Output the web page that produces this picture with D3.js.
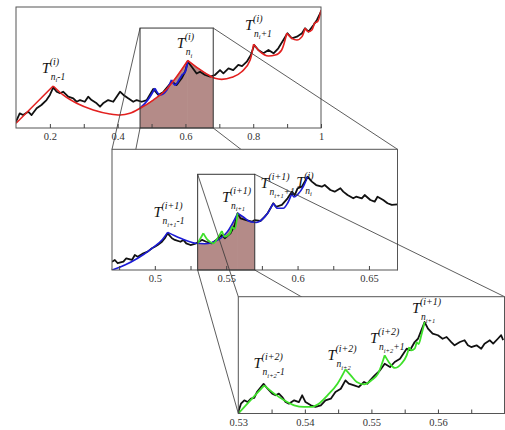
<!DOCTYPE html>
<html>
<head>
<meta charset="utf-8">
<script src="https://cdn.jsdelivr.net/npm/d3@7"></script>
<style>
body { margin: 0; background: #fff; }
svg { display: block; }
text { font-family: "Liberation Serif", "Times New Roman", serif; }
.lbl { font-style: italic; fill: #111; }
.tick text { fill: #333; font-size: 10.5px; }
</style>
</head>
<body>
<svg id="chart" width="505" height="430"></svg>
<script>
// ---- panel 1 (x 0.1 .. 1) ----
var black1 = [[0.1,0.052],[0.111,0.121],[0.121,0.107],[0.136,0.135],[0.146,0.107],[0.161,0.163],[0.175,0.190],[0.190,0.231],
  [0.200,0.273],[0.210,0.336],[0.220,0.300],[0.230,0.287],[0.239,0.300],[0.254,0.259],[0.269,0.245],[0.279,0.217],
  [0.289,0.231],[0.303,0.217],[0.313,0.259],[0.323,0.231],[0.338,0.204],[0.348,0.176],[0.357,0.204],[0.372,0.231],
  [0.387,0.217],[0.407,0.300],[0.417,0.273],[0.431,0.245],[0.446,0.217],[0.456,0.231],[0.471,0.217],[0.486,0.231],
  [0.505,0.322],[0.520,0.273],[0.535,0.298],[0.560,0.383],[0.574,0.355],[0.589,0.411],[0.599,0.465],[0.607,0.548],
  [0.619,0.504],[0.633,0.450],[0.643,0.465],[0.658,0.438],[0.673,0.424],[0.687,0.438],[0.702,0.479],[0.712,0.452],
  [0.727,0.493],[0.741,0.479],[0.756,0.521],[0.767,0.512],[0.781,0.548],[0.793,0.603],[0.803,0.686],[0.815,0.645],
  [0.830,0.617],[0.845,0.645],[0.860,0.617],[0.874,0.659],[0.889,0.727],[0.901,0.783],[0.914,0.741],[0.929,0.755],
  [0.944,0.783],[0.953,0.824],[0.963,0.796],[0.978,0.851],[0.988,0.893],[1.0,0.961]];
var red1 = [
  [[0.1,0.039],[0.2097,0.347]],
  [[0.2097,0.347],[0.239,0.273],[0.279,0.204],[0.328,0.149],[0.377,0.116],[0.407,0.107],[0.436,0.121],[0.466,0.163],
   [0.505,0.231],[0.545,0.322],[0.569,0.405],[0.607,0.558]],
  [[0.607,0.558],[0.638,0.493],[0.668,0.438],[0.687,0.411],[0.707,0.402],[0.737,0.419],[0.766,0.465],[0.791,0.562],[0.801,0.692]],
  [[0.801,0.692],[0.820,0.631],[0.845,0.595],[0.865,0.603],[0.884,0.645],[0.899,0.783]],
  [[0.899,0.783],[0.914,0.741],[0.929,0.727],[0.944,0.755],[0.953,0.824]],
  [[0.953,0.824],[0.963,0.796],[0.973,0.81],[0.981,0.87]],
  [[0.981,0.87],[0.99,0.88],[1.0,0.975]]
];
var blue1 = [
  [[0.466,0.163],[0.490,0.235],[0.510,0.328]],
  [[0.510,0.328],[0.525,0.273],[0.545,0.314],[0.559,0.397]],
  [[0.559,0.397],[0.569,0.355],[0.584,0.411],[0.592,0.446]],
  [[0.592,0.446],[0.599,0.463],[0.607,0.554]]
];
var ticks1 = [0.2, 0.4, 0.6, 0.8, 1];
var tickLabels1 = ['0.2', '0.4', '0.6', '0.8', '1'];
var minor1 = [0.3, 0.5, 0.7, 0.9];
var zoom1 = [0.466, 0.682];
var zoomTop1 = 0.826;
var labels1 = [
  {x: 0.176, y: 0.455, sup: '(i)', sub: 'i', tail: '-1'},
  {x: 0.574, y: 0.659, sup: '(i)', sub: 'i', tail: ''},
  {x: 0.776, y: 0.810, sup: '(i)', sub: 'i', tail: '+1'}
];

// ---- panel 2 (x 0.47 .. 0.67) ----
var black2 = [[0.47,0.069],[0.472,0.083],[0.474,0.056],[0.478,0.069],[0.480,0.097],[0.484,0.083],[0.486,0.124],[0.488,0.110],
  [0.492,0.138],[0.495,0.152],[0.498,0.180],[0.500,0.193],[0.502,0.207],[0.505,0.234],[0.507,0.263],[0.509,0.304],
  [0.512,0.263],[0.514,0.249],[0.518,0.234],[0.520,0.249],[0.522,0.221],[0.525,0.207],[0.529,0.221],[0.533,0.249],
  [0.536,0.234],[0.540,0.221],[0.543,0.249],[0.547,0.290],[0.549,0.263],[0.553,0.304],[0.556,0.373],[0.558,0.470],
  [0.560,0.428],[0.564,0.414],[0.568,0.400],[0.570,0.414],[0.574,0.406],[0.577,0.442],[0.579,0.470],[0.583,0.553],
  [0.585,0.524],[0.589,0.539],[0.591,0.566],[0.593,0.594],[0.596,0.649],[0.598,0.621],[0.600,0.677],[0.603,0.690],
  [0.605,0.732],[0.607,0.773],[0.610,0.732],[0.613,0.704],[0.617,0.690],[0.619,0.704],[0.623,0.663],[0.626,0.649],
  [0.630,0.677],[0.632,0.649],[0.635,0.621],[0.639,0.594],[0.641,0.607],[0.645,0.594],[0.647,0.621],[0.651,0.580],
  [0.654,0.566],[0.656,0.607],[0.660,0.580],[0.663,0.553],[0.666,0.539],[0.67,0.544]];
var blue2 = [
  [[0.47,0.0],[0.479,0.041],[0.488,0.097],[0.498,0.180],[0.505,0.249],[0.509,0.312]],
  [[0.509,0.312],[0.514,0.284],[0.521,0.249],[0.529,0.221],[0.535,0.218],[0.540,0.228],[0.546,0.262],[0.551,0.320],[0.558,0.470]],
  [[0.558,0.470],[0.562,0.439],[0.567,0.400],[0.571,0.394],[0.576,0.428],[0.579,0.470],[0.583,0.553]],
  [[0.583,0.553],[0.586,0.511],[0.590,0.511],[0.593,0.553],[0.596,0.635]],
  [[0.596,0.635],[0.5975,0.605],[0.600,0.625],[0.604,0.690],[0.607,0.773]]
];
var green2 = [
  [[0.530,0.221],[0.534,0.304]],
  [[0.534,0.304],[0.537,0.249],[0.541,0.221],[0.544,0.263],[0.547,0.323]],
  [[0.547,0.323],[0.549,0.276],[0.553,0.312],[0.554,0.359]],
  [[0.554,0.359],[0.556,0.340],[0.558,0.470]]
];
var ticks2 = [0.5, 0.55, 0.6, 0.65];
var tickLabels2 = ['0.5', '0.55', '0.6', '0.65'];
var minor2 = [0.475, 0.525, 0.575, 0.625];
var zoom2 = [0.53, 0.57];
var zoomTop2 = 0.793;
var labels2 = [
  {x: 0.499, y: 0.439, sup: '(i+1)', sub: 'i+1', tail: '-1'},
  {x: 0.547, y: 0.566, sup: '(i+1)', sub: 'i+1', tail: ''},
  {x: 0.574, y: 0.677, sup: '(i+1)', sub: 'i+1', tail: '+1'},
  {x: 0.599, y: 0.690, sup: '(i)', sub: 'i', tail: ''}
];

// ---- panel 3 (x 0.53 .. 0.57) ----
var black3 = [[0.530,0.013],[0.5304,0.084],[0.5309,0.113],[0.5314,0.098],[0.5319,0.127],[0.5324,0.133],[0.5328,0.184],
  [0.5334,0.227],[0.5338,0.253],[0.5344,0.212],[0.5351,0.170],[0.5356,0.156],[0.5361,0.170],[0.5366,0.141],[0.5371,0.098],
  [0.5376,0.084],[0.5384,0.113],[0.5391,0.098],[0.5396,0.156],[0.5401,0.098],[0.5409,0.070],[0.5416,0.056],[0.5424,0.070],
  [0.5431,0.113],[0.5439,0.127],[0.5446,0.184],[0.5454,0.212],[0.5461,0.284],[0.5466,0.255],[0.5474,0.241],[0.5481,0.227],
  [0.5489,0.270],[0.5494,0.255],[0.5498,0.284],[0.5505,0.327],[0.5513,0.370],[0.5520,0.426],[0.5528,0.398],[0.5535,0.441],
  [0.5543,0.469],[0.5548,0.512],[0.5553,0.555],[0.5558,0.541],[0.5565,0.612],[0.5570,0.640],[0.5575,0.712],[0.5580,0.783],
  [0.5585,0.726],[0.5592,0.683],[0.5600,0.670],[0.5607,0.640],[0.5613,0.655],[0.5620,0.612],[0.5625,0.584],[0.5633,0.612],
  [0.5640,0.627],[0.5645,0.584],[0.5650,0.569],[0.5658,0.584],[0.5665,0.555],[0.5670,0.598],[0.5678,0.627],[0.5683,0.598],
  [0.5690,0.640],[0.5695,0.670],[0.5698,0.629]];
var green3 = [
  [[0.530,0.0],[0.5339,0.241]],
  [[0.5339,0.241],[0.5354,0.170],[0.5369,0.113],[0.5384,0.070],[0.5399,0.056],[0.5409,0.056],[0.5421,0.084],[0.5434,0.156],
   [0.5449,0.255],[0.5461,0.378]],
  [[0.5461,0.378],[0.5469,0.327],[0.5478,0.270],[0.5489,0.250],[0.5500,0.284],[0.5510,0.341],[0.5520,0.498]],
  [[0.5520,0.498],[0.5528,0.426],[0.5535,0.390],[0.5545,0.426],[0.5553,0.498],[0.5557,0.569]],
  [[0.5557,0.569],[0.5560,0.541],[0.5565,0.555],[0.5568,0.612]],
  [[0.5568,0.612],[0.5571,0.595],[0.5575,0.670],[0.5580,0.783]]
];
var ticks3 = [0.53, 0.54, 0.55, 0.56];
var tickLabels3 = ['0.53', '0.54', '0.55', '0.56'];
var minor3 = [0.535, 0.545, 0.555, 0.565];
var labels3 = [
  {x: 0.5323, y: 0.387, sup: '(i+2)', sub: 'i+2', tail: '-1'},
  {x: 0.5434, y: 0.458, sup: '(i+2)', sub: 'i+2', tail: ''},
  {x: 0.5498, y: 0.601, sup: '(i+2)', sub: 'i+2', tail: '+1'},
  {x: 0.5561, y: 0.858, sup: '(i+1)', sub: 'i+1', tail: ''}
];

var RED = '#e3201f', BLUE = '#1c1cd6', GREEN = '#3ee02a', FILL = '#b48b88';

var svg = d3.select('#chart');

var line = function (x, y) {
  return d3.line().x(function (d) { return x(d[0]); }).y(function (d) { return y(d[1]); });
};

function drawLabel(g, px, py, d) {
  g.append('text').attr('class', 'lbl').attr('x', px).attr('y', py).style('font-size', '15px').text('T');
  g.append('text').attr('class', 'lbl').attr('x', px + 8).attr('y', py - 8).style('font-size', '10px').text(d.sup);
  var s = g.append('text').attr('class', 'lbl').attr('x', px + 9).attr('y', py + 7).style('font-size', '9.5px');
  s.append('tspan').text('n');
  s.append('tspan').attr('dy', 2.5).style('font-size', '6.5px').text(d.sub);
  if (d.tail) s.append('tspan').attr('dy', -2.5).text(d.tail);
}

function drawPanel(p) {
  var g = svg.append('g');
  var x = d3.scaleLinear().domain(p.domain).range([p.left, p.right]);
  var y = d3.scaleLinear().domain([0, 1]).range([p.bottom, p.top]);
  var id = 'clip' + p.name;

  g.append('rect').attr('x', p.left).attr('y', p.top)
    .attr('width', p.right - p.left).attr('height', p.bottom - p.top).attr('fill', '#fff');

  var defs = g.append('defs');
  defs.append('clipPath').attr('id', id).append('rect')
    .attr('x', p.left).attr('y', p.top).attr('width', p.right - p.left).attr('height', p.bottom - p.top);

  var inner = g.append('g').attr('clip-path', 'url(#' + id + ')');

  // shaded area under the approximating curve inside the zoom window
  if (p.zoom) {
    defs.append('clipPath').attr('id', id + 'z').append('rect')
      .attr('x', x(p.zoom[0])).attr('y', p.top)
      .attr('width', x(p.zoom[1]) - x(p.zoom[0])).attr('height', p.bottom - p.top);
    var area = d3.area().x(function (d) { return x(d[0]); }).y0(y(0)).y1(function (d) { return y(d[1]); })
      .curve(d3.curveMonotoneX);
    inner.append('g').attr('clip-path', 'url(#' + id + 'z)')
      .selectAll('path').data(p.fillSegs).enter().append('path')
      .attr('d', area).attr('fill', FILL).attr('stroke', FILL).attr('stroke-width', 0.8);
  }

  inner.append('path').datum(p.black).attr('d', line(x, y))
    .attr('fill', 'none').attr('stroke', '#111').attr('stroke-width', 1.8).attr('stroke-linejoin', 'round');

  p.curves.forEach(function (c) {
    inner.append('g').selectAll('path').data(c.segs).enter().append('path')
      .attr('d', line(x, y).curve(d3.curveMonotoneX))
      .attr('fill', 'none').attr('stroke', c.color).attr('stroke-width', c.width || 1.6);
  });

  // frame
  g.append('rect').attr('x', p.left).attr('y', p.top)
    .attr('width', p.right - p.left).attr('height', p.bottom - p.top)
    .attr('fill', 'none').attr('stroke', '#555').attr('stroke-width', 1);

  // ticks
  var ax = g.append('g').attr('transform', 'translate(0,' + p.bottom + ')')
    .call(d3.axisBottom(x).tickValues(p.ticks).tickSize(-4).tickPadding(5)
      .tickFormat(function (d, i) { return p.tickLabels[i]; }));
  ax.select('.domain').remove();
  ax.selectAll('line').attr('stroke', '#444');
  var mx = g.append('g').attr('transform', 'translate(0,' + p.bottom + ')')
    .call(d3.axisBottom(x).tickValues(p.minor).tickSize(-4).tickFormat(''));
  mx.select('.domain').remove();
  mx.selectAll('line').attr('stroke', '#444');

  p.labels.forEach(function (d) { drawLabel(g, x(d.x), y(d.y), d); });

  if (p.zoom) {
    g.append('rect').attr('x', x(p.zoom[0])).attr('y', y(p.zoomTop))
      .attr('width', x(p.zoom[1]) - x(p.zoom[0])).attr('height', y(0) - y(p.zoomTop))
      .attr('fill', 'none').attr('stroke', '#333').attr('stroke-width', 1);
  }
  return {x: x, y: y, p: p};
}

function connect(a, b) {
  var pa = a.p, pb = b.p;
  var x0 = a.x(pa.zoom[0]), x1 = a.x(pa.zoom[1]), yt = a.y(pa.zoomTop), yb = a.y(0);
  var pairs = [
    [[x0, yt], [pb.left, pb.top]],
    [[x0, yb], [pb.left, pb.bottom]],
    [[x1, yt], [pb.right, pb.top]],
    [[x1, yb], [pb.right, pb.bottom]]
  ];
  svg.append('g').selectAll('line').data(pairs).enter().append('line')
    .attr('x1', function (d) { return d[0][0]; }).attr('y1', function (d) { return d[0][1]; })
    .attr('x2', function (d) { return d[1][0]; }).attr('y2', function (d) { return d[1][1]; })
    .attr('stroke', '#333').attr('stroke-width', 0.8);
}

var P1 = drawPanel({
  name: 'a', domain: [0.1, 1], left: 16, right: 321, top: 7, bottom: 128,
  black: black1, curves: [{segs: blue1, color: BLUE, width: 1.8}, {segs: red1, color: RED, width: 1.6}],
  fillSegs: red1, zoom: zoom1, zoomTop: zoomTop1,
  ticks: ticks1, tickLabels: tickLabels1, minor: minor1, labels: labels1
});

var P2cfg = {
  name: 'b', domain: [0.47, 0.67], left: 112, right: 397.5, top: 149.3, bottom: 270,
  black: black2, curves: [{segs: blue2, color: BLUE, width: 1.6}, {segs: green2, color: GREEN, width: 1.8}],
  fillSegs: blue2, zoom: zoom2, zoomTop: zoomTop2,
  ticks: ticks2, tickLabels: tickLabels2, minor: minor2, labels: labels2
};
connect(P1, {p: P2cfg});
var P2 = drawPanel(P2cfg);

var P3cfg = {
  name: 'c', domain: [0.53, 0.57], left: 238.3, right: 504.5, top: 296.7, bottom: 413.5,
  black: black3, curves: [{segs: green3, color: GREEN, width: 1.8}],
  ticks: ticks3, tickLabels: tickLabels3, minor: minor3, labels: labels3
};
connect(P2, {p: P3cfg});
drawPanel(P3cfg);
</script>
</body>
</html>
